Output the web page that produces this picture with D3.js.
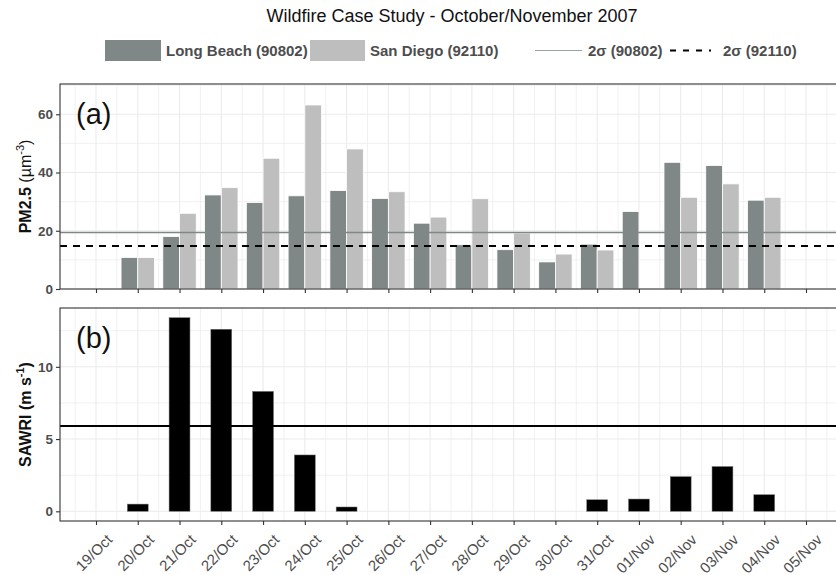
<!DOCTYPE html>
<html>
<head>
<meta charset="utf-8">
<script src="https://cdn.jsdelivr.net/npm/d3@7"></script>
<style>
  html, body { margin: 0; padding: 0; background: #fff; }
  svg { display: block; font-family: "Liberation Sans", Arial, sans-serif; }
</style>
</head>
<body>
<svg id="chart" width="836" height="575"></svg>
<script>
// ---------------- DATA ----------------
const dates = ["19/Oct","20/Oct","21/Oct","22/Oct","23/Oct","24/Oct","25/Oct","26/Oct","27/Oct",
               "28/Oct","29/Oct","30/Oct","31/Oct","01/Nov","02/Nov","03/Nov","04/Nov","05/Nov"];
const longBeach = [null, 10.8, 18.0, 32.3, 29.7, 32.0, 33.8, 31.1, 22.6, 15.2, 13.5, 9.3, 15.4, 26.6, 43.5, 42.4, 30.5, null];
const sanDiego  = [null, 10.8, 26.0, 34.8, 44.9, 63.2, 48.1, 33.4, 24.7, 31.0, 19.2, 12.0, 13.4, null, 31.5, 36.1, 31.5, null];
const sawri     = [null, 0.5, 13.4, 12.6, 8.3, 3.9, 0.3, null, null, null, null, null, 0.8, 0.85, 2.4, 3.1, 1.15, null];
const sigmaLongBeach = 19.4;
const sigmaSanDiego = 14.8;
const sawriThreshold = 5.9;
const pmTicks = [0, 20, 40, 60];
const pmMinor = [10, 30, 50, 70];
const sawriTicks = [0, 5, 10];
const sawriMinor = [2.5, 7.5, 12.5];
const seriesNames = ["Long Beach (90802)", "San Diego (92110)"];
const lineNames = ["2σ (90802)", "2σ (92110)"];
const title = "Wildfire Case Study - October/November 2007";

// ---------------- LAYOUT ----------------
const colLB = "#7f8886", colSD = "#bebebe", gridCol = "#ebebeb", borderCol = "#333333", textCol = "#4d4d4d";
const left = 60, right = 842;
const pA = {top: 84, bottom: 289};
const pB = {top: 308, bottom: 521};

const svg = d3.select("#chart");

const x = d3.scalePoint().domain(dates).range([96, 806]);
const step = x.step();
const idx = d3.scaleLinear().domain([0, dates.length - 1]).range([96, 806]);

const yA = d3.scaleLinear().domain([0, 70.4]).range([pA.bottom, pA.top]);
const yB = d3.scaleLinear().domain([-0.67, 14.07]).range([pB.bottom, pB.top]);

// title
svg.append("text").attr("x", 452).attr("y", 22).attr("text-anchor", "middle")
  .attr("font-size", 18).attr("fill", "#111").text(title);

// legend
const lg = svg.append("g");
const lfs = 15;
lg.append("rect").attr("x", 105).attr("y", 40).attr("width", 56).attr("height", 21).attr("fill", colLB);
lg.append("text").attr("x", 166).attr("y", 56).attr("font-size", lfs).attr("font-weight", "bold").attr("fill", textCol).text(seriesNames[0]);
lg.append("rect").attr("x", 310).attr("y", 40).attr("width", 55).attr("height", 21).attr("fill", colSD);
lg.append("text").attr("x", 370).attr("y", 56).attr("font-size", lfs).attr("font-weight", "bold").attr("fill", textCol).text(seriesNames[1]);
lg.append("line").attr("x1", 535).attr("x2", 582).attr("y1", 50.5).attr("y2", 50.5).attr("stroke", "#9aa3a1").attr("stroke-width", 1.2);
lg.append("text").attr("x", 588).attr("y", 56).attr("font-size", lfs).attr("font-weight", "bold").attr("fill", textCol).text(lineNames[0]);
lg.append("line").attr("x1", 670).attr("x2", 711).attr("y1", 50.5).attr("y2", 50.5).attr("stroke", "#000").attr("stroke-width", 2).attr("stroke-dasharray", "6,7");
lg.append("text").attr("x", 723).attr("y", 56).attr("font-size", lfs).attr("font-weight", "bold").attr("fill", textCol).text(lineNames[1]);

function panel(p, y, ticks, minor) {
  const g = svg.append("g");
  const halfs = d3.range(-0.5, dates.length, 1);
  g.selectAll(".vm").data(halfs).join("line")
    .attr("x1", d => idx(d)).attr("x2", d => idx(d)).attr("y1", p.top).attr("y2", p.bottom)
    .attr("stroke", gridCol).attr("stroke-width", 0.7);
  g.selectAll(".hm").data(minor).join("line")
    .attr("x1", left).attr("x2", right).attr("y1", d => y(d)).attr("y2", d => y(d))
    .attr("stroke", gridCol).attr("stroke-width", 0.7);
  g.selectAll(".vM").data(dates).join("line")
    .attr("x1", d => x(d)).attr("x2", d => x(d)).attr("y1", p.top).attr("y2", p.bottom)
    .attr("stroke", gridCol).attr("stroke-width", 1.1);
  g.selectAll(".hM").data(ticks).join("line")
    .attr("x1", left).attr("x2", right).attr("y1", d => y(d)).attr("y2", d => y(d))
    .attr("stroke", gridCol).attr("stroke-width", 1.1);
  return g;
}
function frame(p, y, ticks, showXLabels) {
  const g = svg.append("g");
  g.append("rect").attr("x", left).attr("y", p.top).attr("width", right - left).attr("height", p.bottom - p.top)
    .attr("fill", "none").attr("stroke", borderCol).attr("stroke-width", 1.1);
  const ay = g.append("g").attr("transform", `translate(${left},0)`)
    .call(d3.axisLeft(y).tickValues(ticks).tickSize(4).tickPadding(3).tickFormat(d3.format("d")));
  ay.select(".domain").remove();
  ay.selectAll("line").attr("stroke", borderCol).attr("stroke-width", 1.1);
  ay.selectAll("text").attr("font-size", 13.5).attr("font-weight", "bold").attr("fill", textCol)
    .attr("font-family", "Liberation Sans, Arial, sans-serif");
  const ax = g.append("g").attr("transform", `translate(0,${p.bottom})`)
    .call(d3.axisBottom(x).tickSize(4).tickFormat(showXLabels ? (d => d) : ""));
  ax.select(".domain").remove();
  ax.selectAll("line").attr("stroke", borderCol).attr("stroke-width", 1.1);
  if (showXLabels) {
    ax.selectAll("text")
      .attr("font-size", 15).attr("fill", textCol).attr("font-family", "Liberation Sans, Arial, sans-serif")
      .attr("text-anchor", "end").attr("dy", "0.72em").attr("y", 0)
      .attr("transform", "translate(9,12) rotate(-45)");
  }
  return g;
}

// Panel A
panel(pA, yA, pmTicks, pmMinor);
const bw = step * 0.8 / 2;
const ga = svg.append("g");
ga.selectAll(".lb").data(dates.map((d, i) => ({d, v: longBeach[i]})).filter(e => e.v != null)).join("rect")
  .attr("x", e => x(e.d) - bw).attr("width", bw).attr("y", e => yA(e.v)).attr("height", e => yA(0) - yA(e.v))
  .attr("fill", colLB).attr("stroke", "#fff").attr("stroke-width", 0.8);
ga.selectAll(".sd").data(dates.map((d, i) => ({d, v: sanDiego[i]})).filter(e => e.v != null)).join("rect")
  .attr("x", e => x(e.d)).attr("width", bw).attr("y", e => yA(e.v)).attr("height", e => yA(0) - yA(e.v))
  .attr("fill", colSD).attr("stroke", "#fff").attr("stroke-width", 0.8);
ga.append("line").attr("x1", left).attr("x2", right).attr("y1", yA(sigmaLongBeach)).attr("y2", yA(sigmaLongBeach))
  .attr("stroke", "#7f8886").attr("stroke-width", 1.6);
ga.append("line").attr("x1", left).attr("x2", right).attr("y1", yA(sigmaSanDiego)).attr("y2", yA(sigmaSanDiego))
  .attr("stroke", "#000").attr("stroke-width", 2).attr("stroke-dasharray", "7,6");
frame(pA, yA, pmTicks, false);
svg.append("text").attr("x", left + 16).attr("y", pA.top + 40).attr("font-size", 29).attr("fill", "#111").text("(a)");

// Panel B
panel(pB, yB, sawriTicks, sawriMinor);
const bw2 = step * 0.5;
const gb = svg.append("g");
gb.selectAll(".sw").data(dates.map((d, i) => ({d, v: sawri[i]})).filter(e => e.v != null)).join("rect")
  .attr("x", e => x(e.d) - bw2 / 2).attr("width", bw2).attr("y", e => yB(e.v)).attr("height", e => yB(0) - yB(e.v))
  .attr("fill", "#000").attr("stroke", "#777").attr("stroke-width", 0.5);
gb.append("line").attr("x1", left).attr("x2", right).attr("y1", yB(sawriThreshold)).attr("y2", yB(sawriThreshold))
  .attr("stroke", "#000").attr("stroke-width", 2);
frame(pB, yB, sawriTicks, true);
svg.append("text").attr("x", left + 16).attr("y", pB.top + 40).attr("font-size", 29).attr("fill", "#111").text("(b)");

// Y titles
const tA = svg.append("text").attr("transform", `translate(31,${(pA.top + pA.bottom) / 2}) rotate(-90)`)
  .attr("text-anchor", "middle").attr("font-size", 16).attr("fill", "#111");
tA.append("tspan").attr("font-weight", "bold").text("PM2.5 ");
tA.append("tspan").text("(µm");
tA.append("tspan").attr("font-size", 11).attr("dy", -7).text("-3");
tA.append("tspan").attr("dy", 7).text(")");

const tB = svg.append("text").attr("transform", `translate(31,${(pB.top + pB.bottom) / 2}) rotate(-90)`)
  .attr("text-anchor", "middle").attr("font-size", 16).attr("font-weight", "bold").attr("fill", "#111");
tB.append("tspan").text("SAWRI (m s");
tB.append("tspan").attr("font-size", 11).attr("dy", -7).text("-1");
tB.append("tspan").attr("dy", 7).text(")");
</script>
</body>
</html>
